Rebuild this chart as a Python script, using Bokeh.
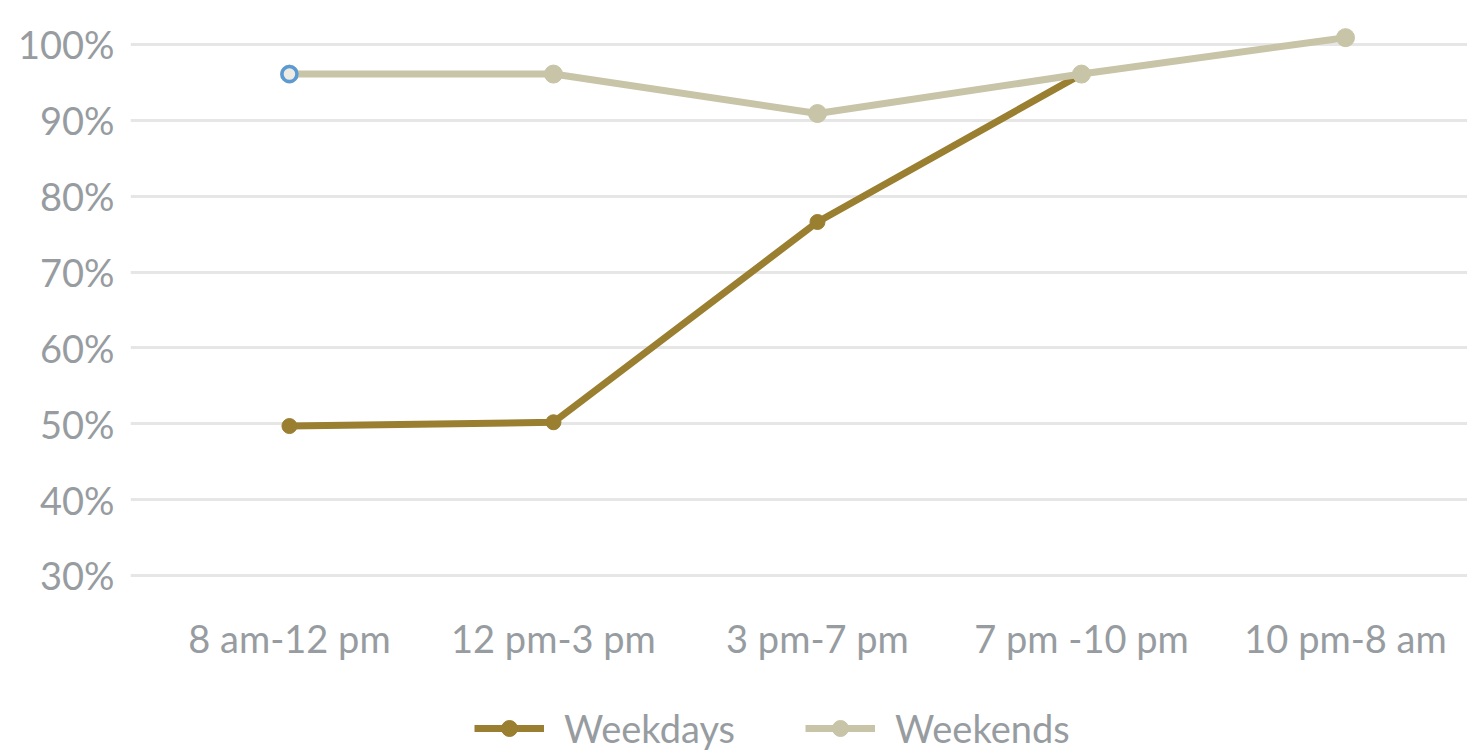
from bokeh.plotting import figure
from bokeh.models import FixedTicker, Legend, LegendItem, ColumnDataSource, Range1d
from bokeh.core.properties import value
from bokeh.embed import file_html
from bokeh.resources import INLINE

categories = ["8 am-12 pm", "12 pm-3 pm", "3 pm-7 pm", "7 pm -10 pm", "10 pm-8 am"]
weekdays = [49.7, 50.2, 76.6, 96.1]
weekends = [96.1, 96.1, 90.9, 96.1, 100.9]
y_ticks = [30, 40, 50, 60, 70, 80, 90, 100]

WD = "#9a7f31"
WE = "#c8c4a7"
TXT = "#979ca1"
FONT = "Lato"
LABEL_Y = 21.8  # data-level row where the category labels sit, below the 30% line

p = figure(frame_width=1337, frame_height=754, output_backend="svg", toolbar_location=None,
           x_range=Range1d(-0.602, 4.462), y_range=Range1d(6.4, 105.8),
           x_axis_location=None,
           min_border_left=130, min_border_right=0, min_border_top=0, min_border_bottom=0)
p.outline_line_color = None
p.background_fill_color = "white"
p.border_fill_color = "white"

xs = list(range(len(categories)))
src_wd = ColumnDataSource(dict(x=xs[:len(weekdays)], y=weekdays))
src_we = ColumnDataSource(dict(x=xs[:len(weekends)], y=weekends))

l1 = p.line("x", "y", source=src_wd, line_color=WD, line_width=7)
s1 = p.scatter("x", "y", source=src_wd, size=15, fill_color=WD, line_color=WD)
l2 = p.line("x", "y", source=src_we, line_color=WE, line_width=7)
s2 = p.scatter("x", "y", source=src_we, size=18, fill_color=WE, line_color=WE)
# highlighted first point
sel = ColumnDataSource(dict(x=[xs[0]], y=[weekends[0]]))
p.scatter("x", "y", source=sel, size=15, fill_color="#eeece2", line_color="#5b9bd5", line_width=3.5)

# category labels
lab = ColumnDataSource(dict(x=xs, y=[LABEL_Y] * len(xs), t=categories))
p.text("x", "y", text="t", source=lab, text_align="center", text_baseline="middle",
       text_font=value(FONT), text_font_size="38px", text_color=TXT)

p.yaxis.ticker = FixedTicker(ticks=y_ticks)
p.yaxis.major_label_overrides = {t: f"{t}%" for t in y_ticks}
ax = p.yaxis[0]
ax.axis_line_color = None
ax.major_tick_line_color = None
ax.minor_tick_line_color = None
ax.major_label_text_color = TXT
ax.major_label_text_font = FONT
ax.major_label_text_font_size = "38px"
ax.major_label_standoff = 10

p.xgrid.grid_line_color = None
p.ygrid.ticker = FixedTicker(ticks=y_ticks)
p.ygrid.grid_line_color = "#e6e6e6"
p.ygrid.grid_line_width = 3

legend = Legend(items=[LegendItem(label="Weekdays", renderers=[l1, s1]),
                       LegendItem(label="Weekends", renderers=[l2, s2])],
                orientation="horizontal", location=(344, 3),
                label_text_font=FONT, label_text_font_size="38px", label_text_color=TXT,
                glyph_width=70, glyph_height=40, spacing=70, label_standoff=20,
                border_line_color=None, background_fill_alpha=0, margin=0, padding=0)
p.add_layout(legend, "center")

open("out.html", "w").write(file_html(p, INLINE))
